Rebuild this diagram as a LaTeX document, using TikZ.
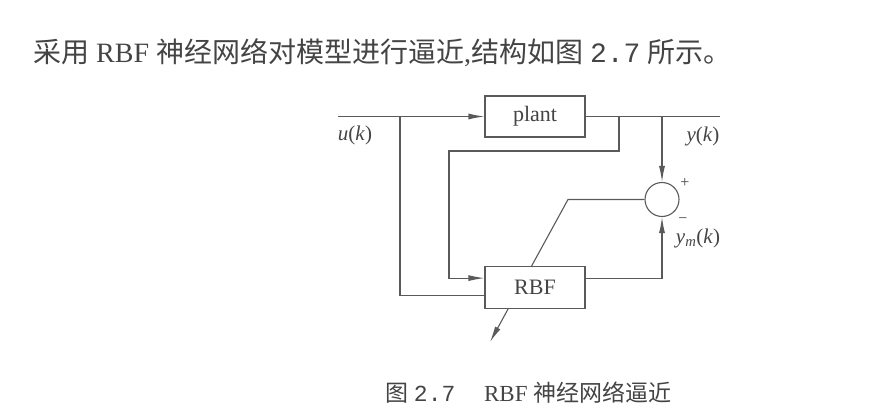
\documentclass[tikz,border=0pt]{standalone}
\usepackage{fontspec}
\setmainfont{Liberation Serif}
\newfontfamily\cjk{Noto Sans CJK SC}
\newfontfamily\numfont{Liberation Mono}
\usetikzlibrary{positioning, arrows.meta, backgrounds}
\definecolor{linegray}{HTML}{5A5A5A}
\definecolor{txtgray}{HTML}{444444}

\begin{document}
\begin{tikzpicture}[
    x=1pt, y=-1pt,
    block/.style={
        rectangle, draw=linegray, fill=white, line width=1.1pt,
        minimum width=100pt, minimum height=41pt, inner sep=0pt,
        text=txtgray, font=\fontsize{22}{26}\selectfont
    },
    sumnode/.style={circle, draw=linegray, fill=white, line width=1.1pt, minimum size=34pt, inner sep=0pt},
    wire/.style={draw=linegray, line width=1.1pt},
    flow/.style={wire, -{Latex[length=16pt, width=6pt]}},
    sig/.style={text=txtgray, font=\fontsize{21}{25}\selectfont, inner sep=0pt},
    sign/.style={text=txtgray, font=\fontsize{16}{19}\selectfont, inner sep=0pt},
    bodytext/.style={anchor=west, text=txtgray, font=\fontsize{28}{32}\selectfont, inner sep=0pt}
]
\useasboundingbox (0,0) rectangle (891,406);

% ============ Text ============
\node[bodytext] (intro) at (33,53) {{\cjk 采用} RBF {\cjk 神经网络对模型进行逼近},{\cjk 结构如图} {\numfont 2.7} {\cjk 所示。}};
\node[bodytext, font=\fontsize{23}{27}\selectfont] (caption) at (385,393) {{\cjk 图} {\numfont 2.7}\quad\ RBF {\cjk 神经网络逼近}};

% ============ Blocks ============
\node[block] (plant) at (535,116.5) {plant};
\node[block, minimum height=42pt, below=128pt of plant] (rbf) {RBF};
\node[sumnode] (sum) at (662,199.5) {};

\coordinate (uin) at (338,116.5);
\coordinate (yout) at (720,116.5);
\coordinate (ubr) at (400,116.5);
\coordinate (pbr) at (619,116.5);
\coordinate (ybr) at (662,116.5);
\coordinate (fb) at (449,151);
\coordinate (adtop) at (568,199.5);
\coordinate (adend) at (490,342);

% ============ Signals ============
\draw[flow] (uin) -- (plant.west);
\draw[wire] (plant.east) -- (yout);
\draw[wire] (ubr) |- ([yshift=-8pt]rbf.west);
\draw[flow] (pbr) |- (fb) |- ([yshift=9pt]rbf.west);
\draw[flow] (ybr) -- (sum.north);
\draw[flow] ([yshift=9pt]rbf.east) -| (sum.south);

\begin{scope}[on background layer]
    \draw[flow] (sum.west) -- (adtop) -- (adend);
\end{scope}

% ============ Labels ============
\node[sig] (ulabel) at (355,135) {\textit{u}(\textit{k})};
\node[sig] (ylabel) at (703,136) {\textit{y}(\textit{k})};
\node[sign] (plus) at (685,183) {+};
\node[sign] (minus) at (683,221) {−};
\node[sig] (ymlabel) at (698,238) {\textit{y}\textsubscript{\textit{m}}(\textit{k})};

\end{tikzpicture}
\end{document}
